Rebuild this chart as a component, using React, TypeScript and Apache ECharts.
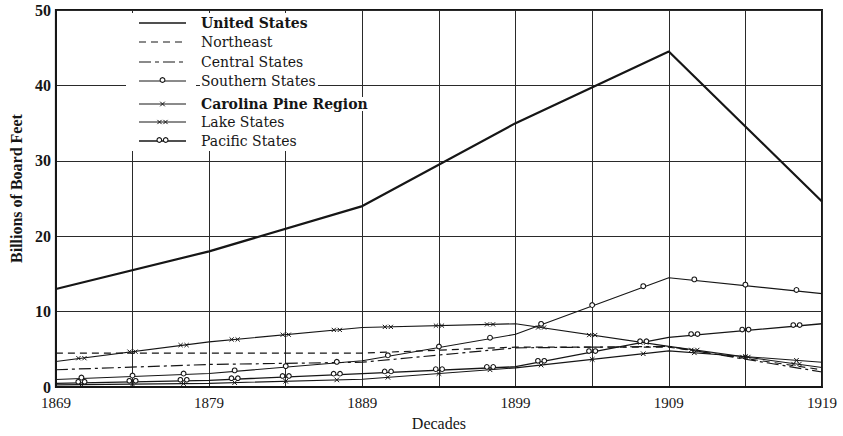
import React, { useEffect, useRef } from "react";
import * as echarts from "echarts";

const years = [1869, 1879, 1889, 1899, 1909, 1919];
const yTicks = [0, 10, 20, 30, 40, 50];

const unitedStates = [13.0, 18.0, 24.0, 35.0, 44.5, 24.6];
const northeast = [4.5, 4.5, 4.5, 5.3, 5.3, 2.3];
const centralStates = [2.3, 3.0, 3.3, 5.2, 5.4, 2.0];
const southernStates = [1.0, 1.8, 3.5, 7.0, 14.5, 12.4];
const carolinaPine = [0.3, 0.5, 1.05, 2.55, 4.8, 3.3];
const lakeStates = [3.4, 6.0, 7.9, 8.4, 5.4, 2.6];
const pacificStates = [0.5, 0.9, 1.8, 2.7, 6.6, 8.4];

const seriesNames = [
  "United States",
  "Northeast",
  "Central States",
  "Southern States",
  "Carolina Pine Region",
  "Lake States",
  "Pacific States",
];

const FONT = '"Liberation Serif", "DejaVu Serif", serif';
const LEGEND_FONT = '"DejaVu Serif", "Liberation Serif", serif';
const INK = "#161616";

type Kind = "none" | "o" | "oo" | "x" | "xx";

function markerShapes(kind: Kind, cx: number, cy: number): any[] {
  const out: any[] = [];
  const circ = (x: number, y: number, r: number) => ({
    type: "circle",
    shape: { cx: x, cy: y, r },
    style: { fill: "#fff", stroke: INK, lineWidth: 1.1 },
  });
  const cross = (x: number, y: number, s: number) => [
    { type: "line", shape: { x1: x - s, y1: y - s, x2: x + s, y2: y + s }, style: { stroke: INK, lineWidth: 1 } },
    { type: "line", shape: { x1: x - s, y1: y + s, x2: x + s, y2: y - s }, style: { stroke: INK, lineWidth: 1 } },
  ];
  if (kind === "o") out.push(circ(cx, cy - 1, 2.4));
  if (kind === "oo") out.push(circ(cx - 3.2, cy - 1, 2.3), circ(cx + 3.2, cy - 1, 2.3));
  if (kind === "x") out.push(...cross(cx, cy, 2.3));
  if (kind === "xx") out.push(...cross(cx - 3, cy, 2.1), ...cross(cx + 3, cy, 2.1));
  return out;
}

function markerSeries(values: number[], kind: Kind) {
  const segs = years.slice(0, -1).map((y, i) => [y, values[i], years[i + 1], values[i + 1]]);
  return {
    type: "custom",
    silent: true,
    z: 5,
    data: segs,
    encode: { x: [0, 2], y: [1, 3] },
    renderItem: (_params: any, api: any) => {
      const p0 = api.coord([api.value(0), api.value(1)]);
      const p1 = api.coord([api.value(2), api.value(3)]);
      const children: any[] = [];
      for (const t of [1 / 6, 1 / 2, 5 / 6]) {
        const cx = p0[0] + (p1[0] - p0[0]) * t;
        const cy = p0[1] + (p1[1] - p0[1]) * t;
        children.push(...markerShapes(kind, cx, cy));
      }
      return { type: "group", children };
    },
  };
}

function lineSeries(name: string, values: number[], width: number, dash: any) {
  return {
    name,
    type: "line",
    data: years.map((y, i) => [y, values[i]]),
    symbol: "none",
    z: 3,
    lineStyle: { color: INK, width, type: dash },
  };
}

export default function App() {
  const ref = useRef<HTMLDivElement>(null);

  useEffect(() => {
    if (!ref.current) return;
    const chart = echarts.init(ref.current, null, { renderer: "svg" });

    const legendRows: { name: string; y: number; dash: any; kind: Kind; width: number; bold: boolean }[] = [
      { name: seriesNames[0], y: 23, dash: "solid", kind: "none", width: 1.6, bold: true },
      { name: seriesNames[1], y: 42, dash: [7, 5], kind: "none", width: 1.1, bold: false },
      { name: seriesNames[2], y: 62, dash: [12, 4, 4, 4], kind: "none", width: 1.1, bold: false },
      { name: seriesNames[3], y: 81, dash: "solid", kind: "o", width: 1, bold: false },
      { name: seriesNames[4], y: 104, dash: "solid", kind: "x", width: 1, bold: true },
      { name: seriesNames[5], y: 122, dash: "solid", kind: "xx", width: 1, bold: false },
      { name: seriesNames[6], y: 141, dash: "solid", kind: "oo", width: 1.4, bold: false },
    ];

    const graphics: any[] = [
      { type: "rect", z: 90, shape: { x: 126, y: 13, width: 70, height: 138 }, style: { fill: "#fff" } },
      { type: "rect", z: 90, shape: { x: 200, y: 13, width: 118, height: 138 }, style: { fill: "#fff" } },
    ];
    legendRows.forEach((r) => {
      graphics.push({
        type: "line",
        z: 100,
        shape: { x1: 139, y1: r.y, x2: 186, y2: r.y },
        style: { stroke: INK, lineWidth: r.width, lineDash: Array.isArray(r.dash) ? r.dash : null },
      });
      markerShapes(r.kind, 162.5, r.y).forEach((m) => graphics.push({ ...m, z: 101 }));
      graphics.push({
        type: "text",
        z: 100,
        style: {
          text: r.name,
          x: 201,
          y: r.y,
          fill: INK,
          font: `${r.bold ? "bold" : "normal"} 14px ${LEGEND_FONT}`,
          verticalAlign: "middle",
          align: "left",
          backgroundColor: "#fff",
        },
      });
    });

    chart.setOption({
      animation: false,
      backgroundColor: "#fff",
      grid: {
        left: 42,
        right: 21,
        top: 10,
        bottom: 38,
        show: true,
        borderColor: INK,
        borderWidth: 2,
        containLabel: false,
      },
      xAxis: {
        type: "value",
        min: years[0],
        max: years[years.length - 1],
        interval: 5,
        name: "Decades",
        nameLocation: "middle",
        nameGap: 26,
        nameTextStyle: { fontFamily: FONT, fontSize: 16, color: INK },
        axisLine: { show: true, lineStyle: { color: INK, width: 2 } },
        axisTick: { show: false },
        axisLabel: {
          fontFamily: FONT,
          fontSize: 15,
          color: INK,
          margin: 8,
          formatter: (v: number) => (years.includes(v) ? String(v) : ""),
        },
        splitLine: { show: true, lineStyle: { color: "#2a2a2a", width: 1 } },
      },
      yAxis: {
        type: "value",
        min: yTicks[0],
        max: yTicks[yTicks.length - 1],
        interval: 10,
        name: "Billions of Board Feet",
        nameLocation: "middle",
        nameGap: 27,
        nameRotate: 90,
        nameTextStyle: {
          fontFamily: FONT,
          fontSize: 16,
          fontWeight: "bold",
          color: INK,
          padding: [0, 0, 0, 20],
        },
        axisLine: { show: true, lineStyle: { color: INK, width: 2 } },
        axisTick: { show: false },
        axisLabel: { fontFamily: FONT, fontSize: 16, fontWeight: "bold", color: INK, margin: 5 },
        splitLine: { show: true, lineStyle: { color: "#2a2a2a", width: 1 } },
      },
      graphic: graphics,
      series: [
        lineSeries(seriesNames[0], unitedStates, 2.2, "solid"),
        lineSeries(seriesNames[1], northeast, 1.2, [7, 5]),
        lineSeries(seriesNames[2], centralStates, 1.2, [12, 4, 3, 4]),
        lineSeries(seriesNames[3], southernStates, 1.1, "solid"),
        lineSeries(seriesNames[4], carolinaPine, 1.1, "solid"),
        lineSeries(seriesNames[5], lakeStates, 1.1, "solid"),
        lineSeries(seriesNames[6], pacificStates, 1.3, "solid"),
        markerSeries(southernStates, "o"),
        markerSeries(carolinaPine, "x"),
        markerSeries(lakeStates, "xx"),
        markerSeries(pacificStates, "oo"),
      ],
    });

    return () => chart.dispose();
  }, []);

  return (
    <div
      ref={ref}
      style={{ position: "fixed", left: 0, top: 0, width: 843, height: 436, background: "#fff" }}
    />
  );
}
